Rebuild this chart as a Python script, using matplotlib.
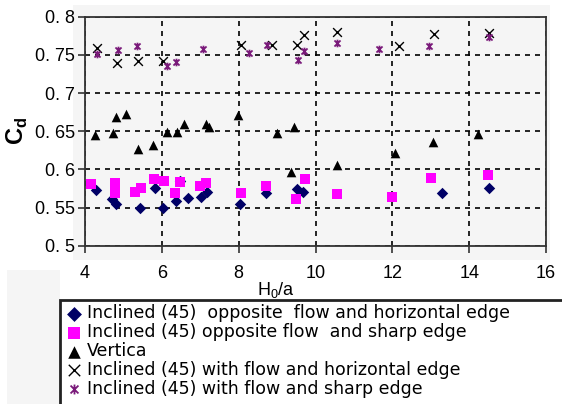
import matplotlib
matplotlib.use('Agg')
import matplotlib.pyplot as plt
from matplotlib.path import Path
from matplotlib.patches import Rectangle

plt.rcParams['font.family'] = ['Liberation Sans', 'DejaVu Sans']

# ---- data ----
opp_horiz_x = [4.28, 4.70, 4.80, 5.43, 5.81, 6.03, 6.37, 6.48, 6.68, 7.03, 7.17, 8.04, 8.71, 9.52, 9.68, 13.30, 14.52]
opp_horiz_y = [0.573, 0.561, 0.555, 0.550, 0.575, 0.550, 0.559, 0.585, 0.563, 0.564, 0.571, 0.554, 0.569, 0.574, 0.570, 0.569, 0.575]

opp_sharp_x = [4.15, 4.77, 4.77, 4.77, 5.30, 5.45, 5.80, 6.06, 6.35, 6.48, 7.00, 7.16, 8.06, 8.70, 9.48, 9.72, 10.57, 12.00, 13.00, 14.48]
opp_sharp_y = [0.581, 0.582, 0.575, 0.569, 0.571, 0.576, 0.587, 0.585, 0.569, 0.583, 0.578, 0.582, 0.569, 0.578, 0.561, 0.588, 0.568, 0.564, 0.589, 0.592]

vert_x = [4.26, 4.74, 4.81, 5.07, 5.39, 5.78, 6.13, 6.39, 6.58, 7.16, 7.22, 7.98, 8.99, 9.35, 9.45, 10.55, 12.08, 13.07, 14.24]
vert_y = [0.645, 0.647, 0.669, 0.673, 0.627, 0.632, 0.649, 0.649, 0.659, 0.659, 0.655, 0.671, 0.647, 0.597, 0.656, 0.606, 0.622, 0.636, 0.646]

with_horiz_x = [4.30, 4.83, 5.39, 6.04, 8.07, 8.87, 9.52, 9.71, 10.56, 12.17, 13.09, 14.52]
with_horiz_y = [0.759, 0.740, 0.742, 0.742, 0.763, 0.763, 0.763, 0.776, 0.780, 0.761, 0.777, 0.779]

with_sharp_x = [4.30, 4.85, 5.35, 6.13, 6.37, 7.07, 8.26, 8.74, 9.55, 9.70, 10.56, 11.65, 12.96, 14.52]
with_sharp_y = [0.751, 0.756, 0.761, 0.735, 0.741, 0.758, 0.753, 0.763, 0.743, 0.755, 0.766, 0.758, 0.762, 0.774]

labels = ["Inclined (45)  opposite  flow and horizontal edge",
          "Inclined (45) opposite flow  and sharp edge",
          "Vertica",
          "Inclined (45) with flow and horizontal edge",
          "Inclined (45) with flow and sharp edge"]

xticks = [4, 6, 8, 10, 12, 14, 16]
yticks = [0.5, 0.55, 0.6, 0.65, 0.7, 0.75, 0.8]
ytick_labels = ["0. 5", "0. 55", "0. 6", "0. 65", "0. 7", "0. 75", "0. 8"]

# asterisk marker (x with vertical bar)
star_path = Path([(-1, -1), (1, 1), (-1, 1), (1, -1), (0, -1.25), (0, 1.25)],
                 [Path.MOVETO, Path.LINETO, Path.MOVETO, Path.LINETO, Path.MOVETO, Path.LINETO])

W, H = 562, 404
fig = plt.figure(figsize=(W / 100, H / 100), dpi=100)
fig.patches.append(Rectangle((73 / W, 1 - 260 / H), 477 / W, 255 / H, transform=fig.transFigure,
                             facecolor='#f5f5f5', edgecolor='none', zorder=-10))
fig.patches.append(Rectangle((7 / W, 0), 53 / W, 134 / H, transform=fig.transFigure,
                             facecolor='#f5f5f5', edgecolor='none', zorder=-10))
# legend frame (runs off the right and bottom edges, as in the reference)
fig.patches.append(Rectangle((60 / W, -20 / H), 560 / W, (104 + 20) / H, transform=fig.transFigure,
                             facecolor='white', edgecolor='#222222', linewidth=2, zorder=-5))

ax = fig.add_axes([85 / W, 1 - 245.7 / H, 461 / W, 229 / H])
ax.set_facecolor('#f5f5f5')

h1 = ax.scatter(opp_horiz_x, opp_horiz_y, marker='D', s=34, color='#000066', zorder=3, linewidths=0)
h2 = ax.scatter(opp_sharp_x, opp_sharp_y, marker='s', s=42, color='#ff00ff', zorder=4, linewidths=0)
h3 = ax.scatter(vert_x, vert_y, marker='^', s=48, color='black', zorder=5, linewidths=0)
h4 = ax.scatter(with_horiz_x, with_horiz_y, marker='x', s=40, color='black', zorder=5, linewidths=1.0)
h5 = ax.scatter(with_sharp_x, with_sharp_y, marker=star_path, s=30, color='#7a1a7a', zorder=6, linewidths=1.3)

ax.set_xlim(4, 16)
ax.set_ylim(0.5, 0.8)
ax.set_xticks(xticks)
ax.set_xticklabels([str(t) for t in xticks])
ax.set_yticks(yticks)
ax.set_yticklabels(ytick_labels)
ax.tick_params(axis='both', labelsize=13, color='#333333', length=5, width=1.2)
ax.tick_params(axis='x', pad=9)
ax.tick_params(axis='y', pad=2)
ax.grid(True, color='black', linestyle=(0, (3, 3)), linewidth=1.2)
ax.set_axisbelow(True)
for sp in ax.spines.values():
    sp.set_color('#333333')
    sp.set_linewidth(1.3)

fig.text(276 / W, 1 - 290 / H, 'H$_\\mathregular{0}$/a', fontsize=13, ha='center', va='center')
fig.text(17 / W, 1 - 131 / H, 'C$_\\mathregular{d}$', fontsize=17, fontweight='bold',
         rotation=90, ha='center', va='center')

leg = fig.legend([h1, h2, h3, h4, h5], labels, loc='upper left',
                 bbox_to_anchor=(67.5 / W, 1 - 304.5 / H), bbox_transform=fig.transFigure,
                 frameon=False, borderpad=0.0, labelspacing=0.045, handlelength=0.75,
                 handletextpad=0.37, prop={'family': 'DejaVu Sans', 'size': 12.5},
                 borderaxespad=0, markerscale=1.3)

fig.savefig('out.png', dpi=100)
